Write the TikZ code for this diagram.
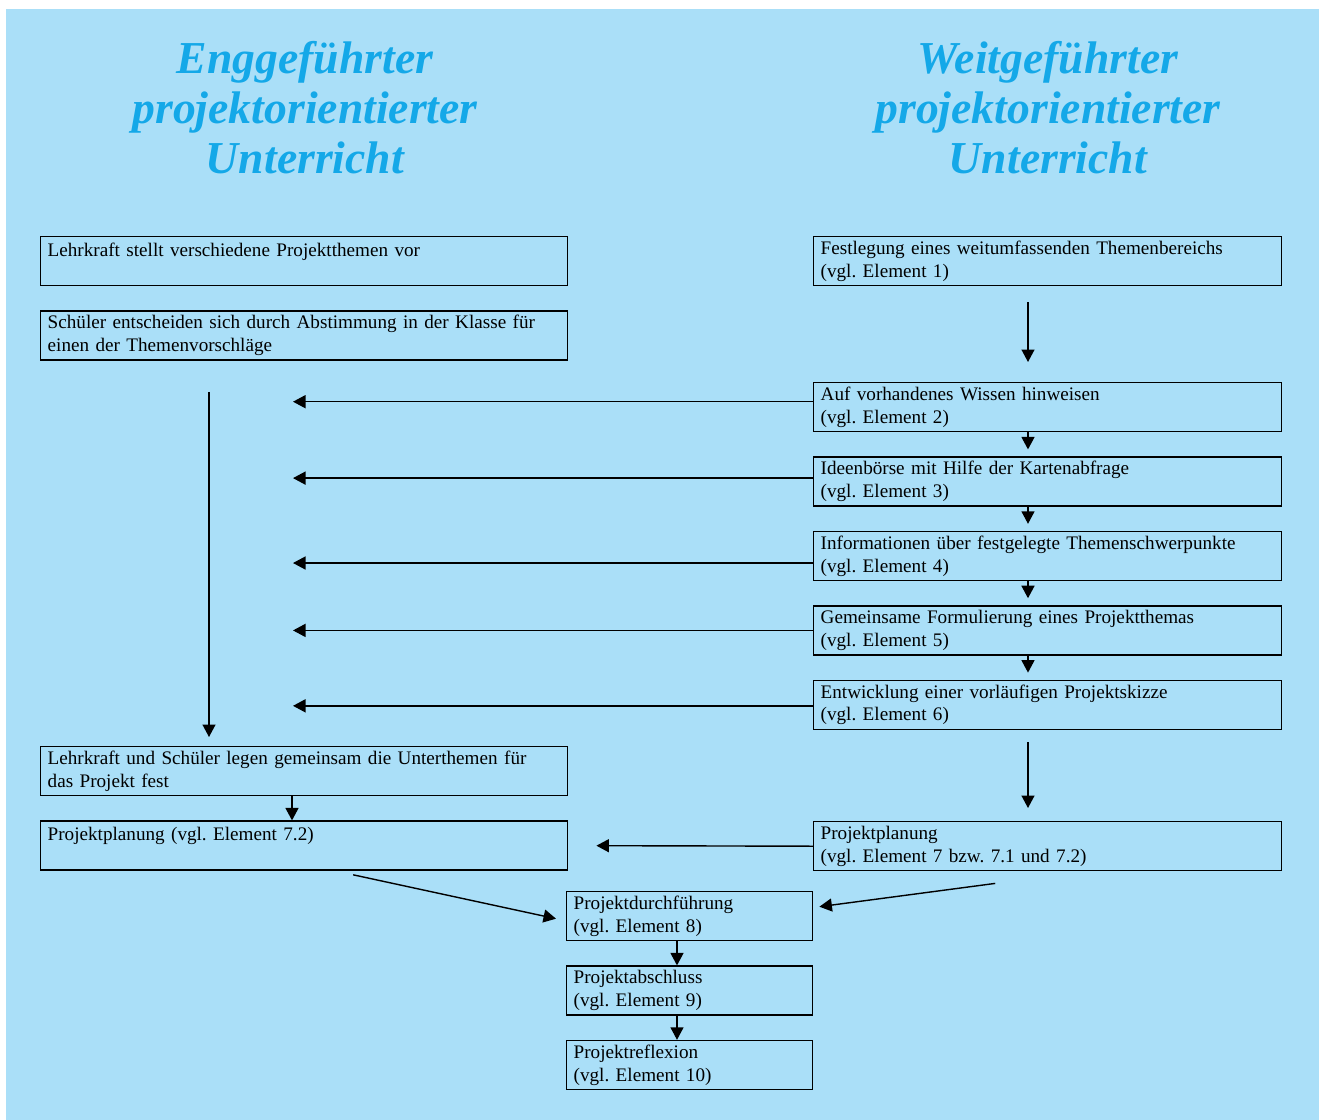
\documentclass[tikz,border=0pt]{standalone}
\usepackage{fontspec}
\setmainfont{Liberation Serif}
\usetikzlibrary{arrows.meta,positioning}
\definecolor{skyback}{RGB}{170,223,248}
\definecolor{headblue}{RGB}{20,168,232}
\frenchspacing

\begin{document}
\begin{tikzpicture}[x=0.2mm,y=-0.2mm,node distance=4.8mm,
  box/.style={draw,line width=0.8pt,inner xsep=1.4mm,inner ysep=0pt,minimum height=9.8mm,align=left,font=\fontsize{10.9}{13}\selectfont},
  widebox/.style={box,text width=102.6mm},
  midbox/.style={box,text width=90.8mm},
  smallbox/.style={box,text width=46.4mm},
  head/.style={text=headblue,align=center,font=\fontsize{26}{28.5}\selectfont\bfseries\itshape},
  arr/.style={-{Triangle[length=2.5mm,width=2.6mm]},line width=0.8pt}]
\fill[white] (0,0) rectangle (1319,1120);
\fill[skyback] (6,9) rectangle (1319,1120);
\useasboundingbox (0,0) rectangle (1319,1120);
\node[head] (lhead) at (305,108) {Enggeführter\\projektorientierter\\Unterricht};
\node[head] (rhead) at (1048,108) {Weitgeführter\\projektorientierter\\Unterricht};
\node[widebox,anchor=north west] (lehr) at (40,236) {Lehrkraft stellt verschiedene Projektthemen vor\\\mbox{}};
\node[widebox,below=of lehr] (wahl) {Schüler entscheiden sich durch Abstimmung in der Klasse für\\einen der Themenvorschläge};
\node[widebox,anchor=north west] (unter) at (40,746) {Lehrkraft und Schüler legen gemeinsam die Unterthemen für\\das Projekt fest};
\node[widebox,below=of unter] (planL) {Projektplanung (vgl. Element 7.2)\\\mbox{}};
\node[midbox,anchor=north west] (el1) at (813,236) {Festlegung eines weitumfassenden Themenbereichs\\(vgl. Element 1)};
\node[midbox,anchor=north west] (el2) at (813,382) {Auf vorhandenes Wissen hinweisen\\(vgl. Element 2)};
\node[midbox,below=of el2] (el3) {Ideenbörse mit Hilfe der Kartenabfrage\\(vgl. Element 3)};
\node[midbox,below=of el3] (el4) {Informationen über festgelegte Themenschwerpunkte\\(vgl. Element 4)};
\node[midbox,below=of el4] (el5) {Gemeinsame Formulierung eines Projektthemas\\(vgl. Element 5)};
\node[midbox,below=of el5] (el6) {Entwicklung einer vorläufigen Projektskizze\\(vgl. Element 6)};
\node[midbox,anchor=north west] (planR) at (813,821) {Projektplanung\\(vgl. Element 7 bzw. 7.1 und 7.2)};
\node[smallbox,anchor=north west] (el8) at (566,891) {Projektdurchführung\\(vgl. Element 8)};
\node[smallbox,below=of el8] (el9) {Projektabschluss\\(vgl. Element 9)};
\node[smallbox,below=of el9] (el10) {Projektreflexion\\(vgl. Element 10)};
\coordinate (tipx) at (293,0);
\coordinate (lvx) at (209,0);
\coordinate (rvx) at (1028,0);
\coordinate (lnx) at (292,0);
\coordinate (cvx) at (677,0);
\draw[arr,shorten <=3.2mm,shorten >=4mm] (el1.south -| rvx) -- (el2.north -| rvx);
\foreach \a/\b in {el2/el3,el3/el4,el4/el5,el5/el6}
  \draw[arr,shorten >=1.4mm] (\a.south -| rvx) -- (\b.north -| rvx);
\draw[arr,shorten <=2.4mm,shorten >=2.6mm] (el6.south -| rvx) -- (planR.north -| rvx);
\foreach \n/\dy in {el2/1.1mm,el3/0.7mm,el4/-1.4mm,el5/0mm,el6/-0.2mm}
  \draw[arr] ([yshift=\dy]\n.west) -- ([yshift=\dy]\n.west -| tipx);
\draw[arr,shorten <=6.2mm,shorten >=1.8mm] (wahl.south -| lvx) -- (unter.north -| lvx);
\draw[arr] (unter.south -| lnx) -- (planL.north -| lnx);
\draw[arr,shorten >=5.6mm] (planR.west) -- (planL.east);
\draw[arr] ([xshift=9.8mm,yshift=-0.8mm]planL.south) -- ([xshift=-2mm,yshift=-0.5mm]el8.west);
\draw[arr] ([xshift=-10.5mm,yshift=-2.4mm]planR.south) -- ([xshift=1.2mm,yshift=1.9mm]el8.east);
\draw[arr] (el8.south -| cvx) -- (el9.north -| cvx);
\draw[arr] (el9.south -| cvx) -- (el10.north -| cvx);
\end{tikzpicture}
\end{document}
